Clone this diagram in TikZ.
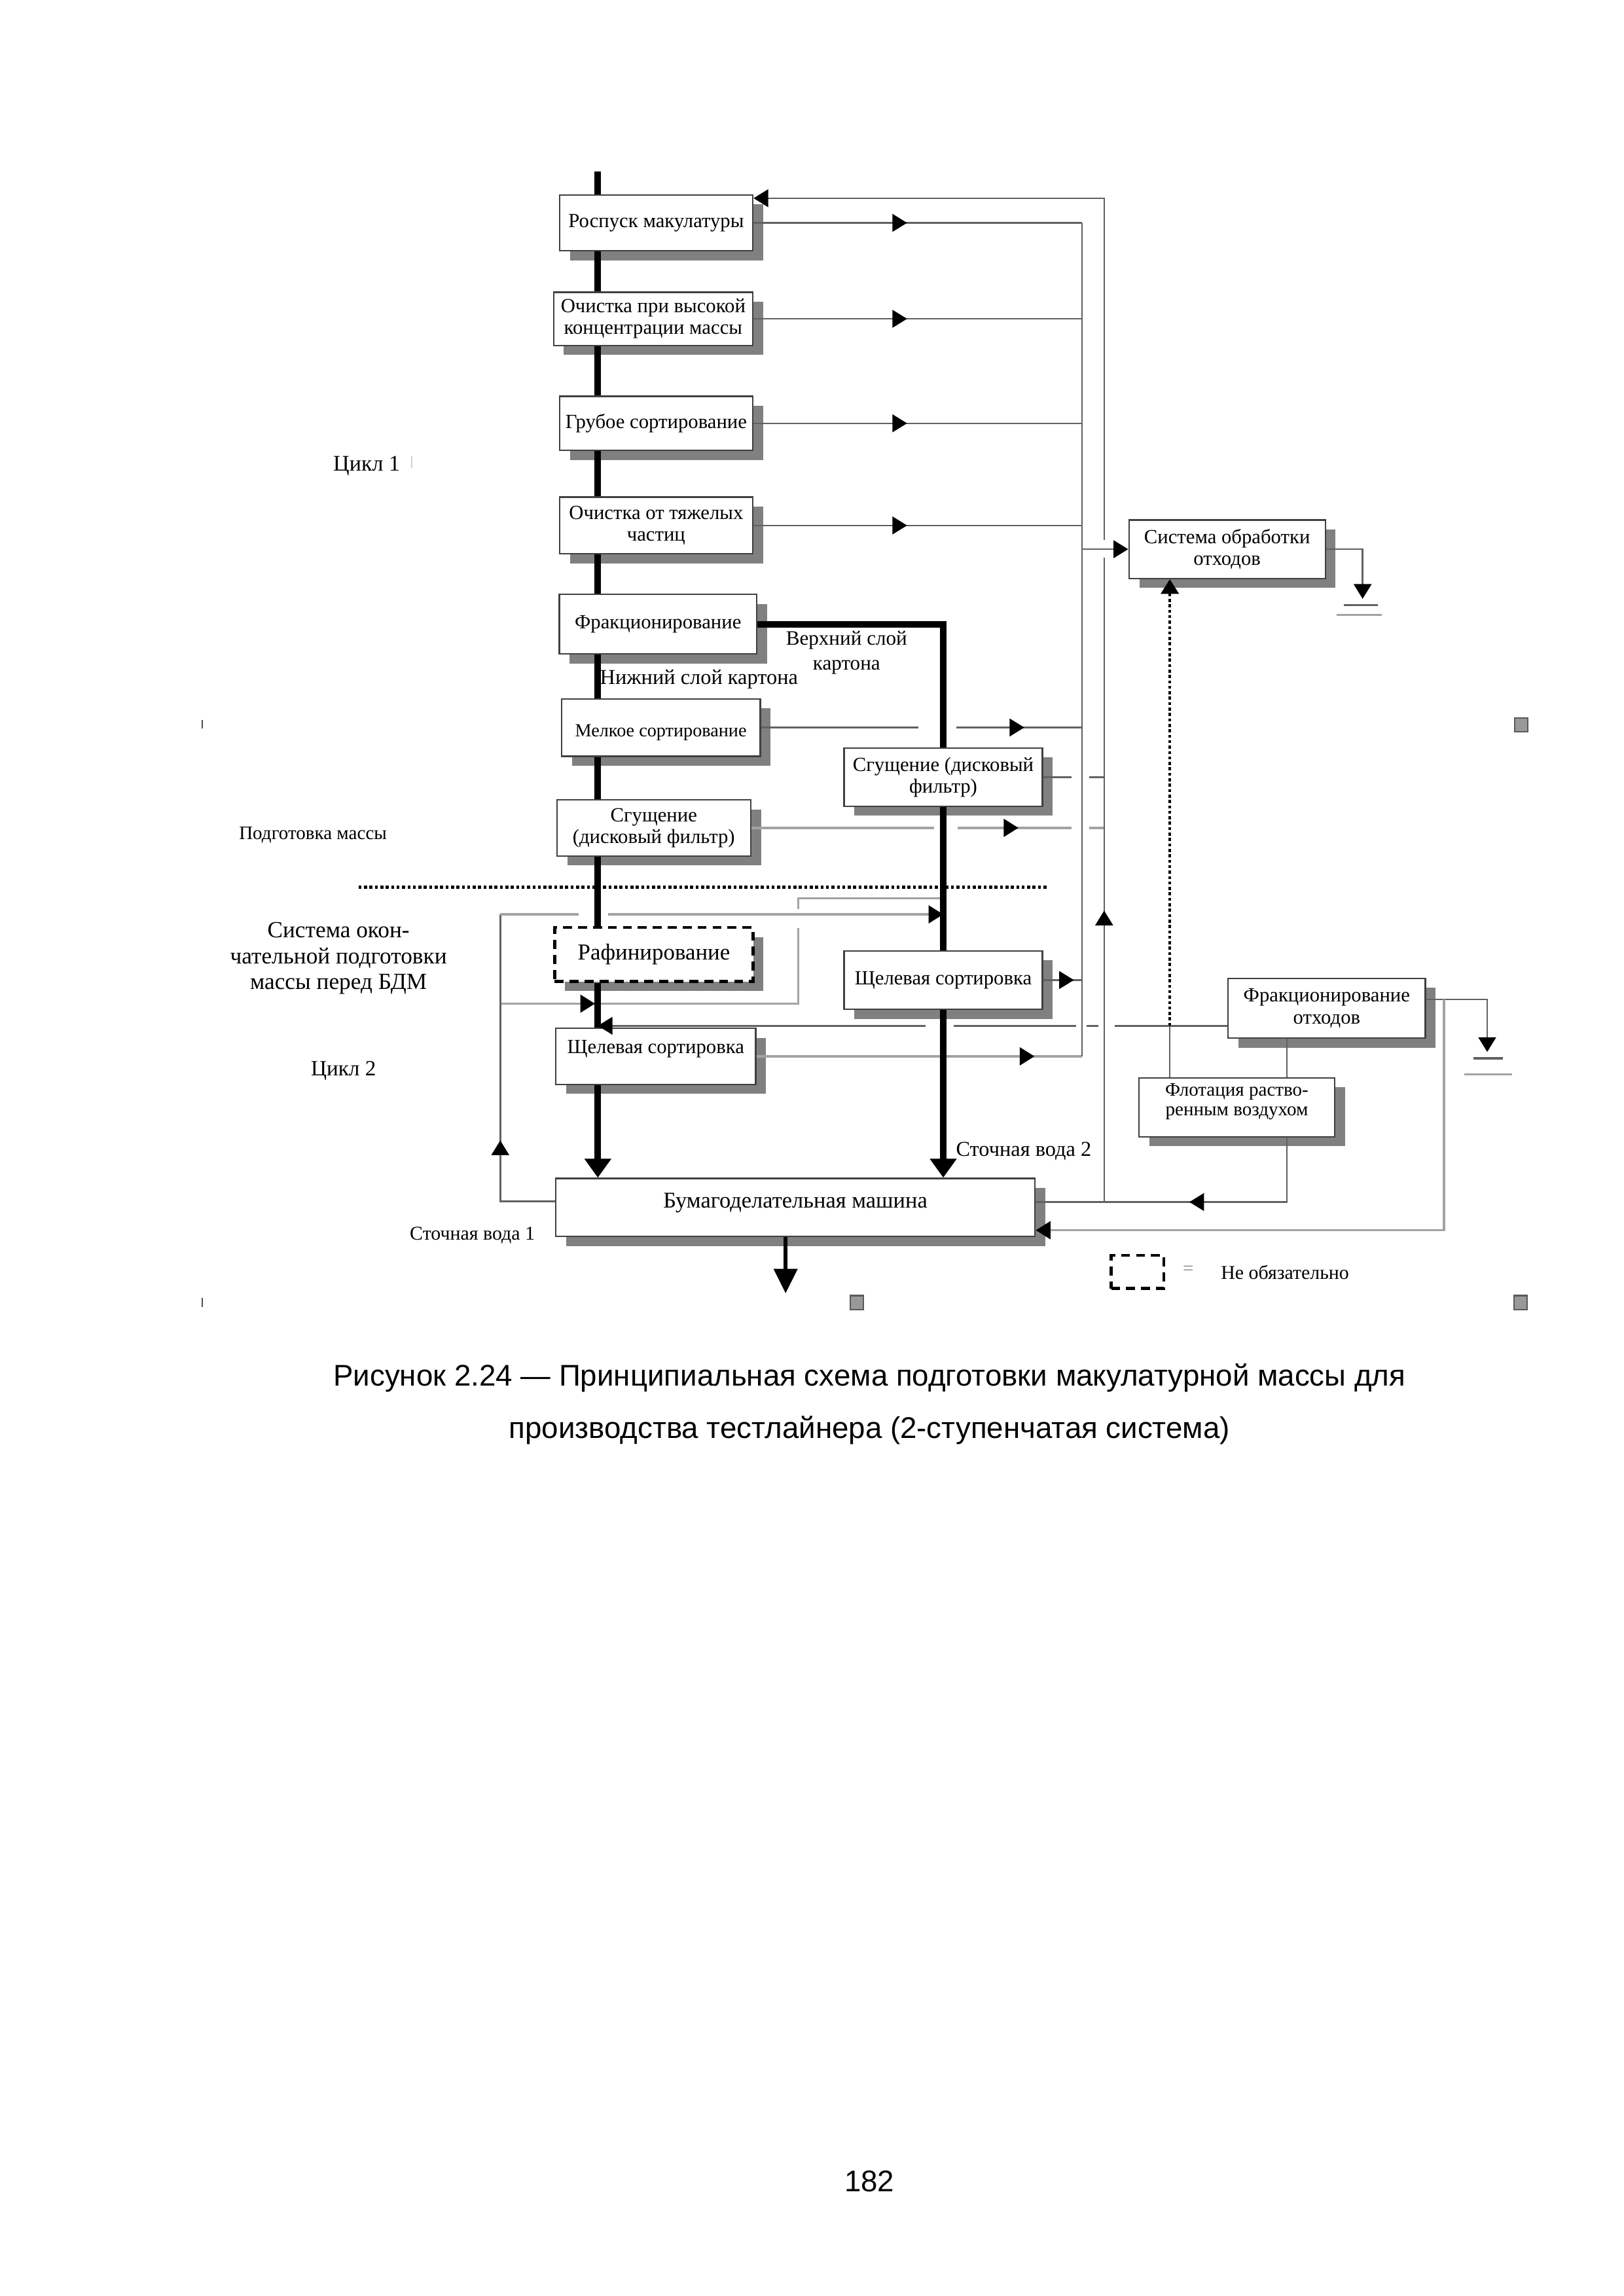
\documentclass[tikz,border=0pt]{standalone}
\usepackage{fontspec}
\setmainfont{Liberation Serif}
\newfontfamily\capfont{Liberation Sans}
\usetikzlibrary{arrows.meta, shadows, decorations.markings, calc}

\definecolor{boxline}{gray}{0.25}
\definecolor{flowgray}{gray}{0.38}
\definecolor{palegray}{gray}{0.64}
\definecolor{shadowgray}{gray}{0.5}
\definecolor{handlegray}{gray}{0.6}

\newcommand{\pxu}{0.019091cm}

\begin{document}
\begin{tikzpicture}[x=\pxu, y=-\pxu,
    tinytip/.tip = {Triangle[length=5.4pt, width=6.5pt, color=black]},
    bigtip/.tip = {Triangle[length=7pt, width=9.5pt, color=black]},
    unit box/.style 2 args = {minimum width=#1*\pxu, minimum height=#2*\pxu},
    stage/.style = {draw=boxline, line width=0.55pt, fill=white, align=center, inner sep=1pt,
      font=\fontsize{7.4}{8}\selectfont,
      drop shadow={shadow xshift=0.134cm, shadow yshift=-0.124cm, fill=shadowgray, opacity=1}},
    optional/.style = {draw=black, line width=1.1pt, dash pattern=on 3.3pt off 2.2pt},
    flow/.style = {draw=flowgray, line width=0.6pt},
    pale/.style = {draw=palegray, line width=0.9pt},
    stock/.style = {draw=black, line width=2.4pt},
    sludge/.style = {draw=black, line width=1.1pt, dash pattern=on 1.1pt off 0.9pt},
    gap/.style = {draw=white, line width=2.2pt},
    tipat/.style = {postaction={decorate, decoration={markings, mark=at position #1*\pxu with {\arrow{tinytip}}}}},
    note/.style = {inner sep=0pt, align=center, font=\fontsize{7.5}{9.2}\selectfont}]
  \useasboundingbox (0,0) rectangle (1100,1555.6);

  \node[stage, unit box={131}{38}] (pulper) at (444.5,151) {Роспуск макулатуры};
  \node[stage, unit box={135}{36}] (hdclean) at (442.5,216) {Очистка при высокой\\концентрации массы};
  \node[stage, unit box={131}{36.5}] (coarse) at (444.5,286.8) {Грубое сортирование};
  \node[stage, unit box={131}{38.5}] (heavy) at (444.5,356) {Очистка от тяжелых\\частиц};
  \node[stage, unit box={133.8}{40.4}] (fract) at (445.8,422.9) {Фракционирование};
  \node[stage, unit box={134.6}{38.9}, font=\fontsize{6.8}{8}\selectfont, text height=8pt] (fine) at (447.7,492.9) {Мелкое сортирование};
  \node[stage, unit box={131.2}{38}] (thickA) at (442.9,560.9) {Сгущение\\(дисковый фильтр)};
  \node[stage, unit box={134.4}{39.5}] (thickB) at (639,526.5) {Сгущение (дисковый\\фильтр)};
  \node[stage, optional, unit box={134.4}{36.6}, font=\fontsize{8.4}{9}\selectfont] (refine) at (443,646.7) {Рафинирование};
  \node[stage, unit box={134.4}{39.6}] (slotB) at (639,664) {Щелевая сортировка};
  \node[stage, unit box={135.6}{38}, text depth=7pt] (slotA) at (444.2,715.7) {Щелевая сортировка};
  \node[stage, unit box={324.8}{39.2}, font=\fontsize{8.3}{9}\selectfont, text depth=5pt] (machine) at (538.8,818) {Бумагоделательная машина};
  \node[stage, unit box={133}{39.6}] (waste) at (831.3,372.1) {Система обработки\\отходов};
  \node[stage, unit box={133.6}{40.6}] (fracw) at (898.8,683.1) {Фракционирование\\отходов};
  \node[stage, unit box={132.8}{39.9}, font=\fontsize{7}{7.4}\selectfont, text depth=5.7pt] (flot) at (837.9,750.2) {Флотация раство-\\ренным воздухом};

  \node[note] (upper) at (573.5,442.3) {Верхний слой\\картона};
  \node[note, font=\fontsize{7.8}{9}\selectfont] (lower) at (473.5,460.4) {Нижний слой картона};
  \node[note, font=\fontsize{8.2}{9}\selectfont] (cycle1) at (248.4,315.8) {Цикл 1};
  \node[note, font=\fontsize{7}{8}\selectfont] (prep) at (212,565.7) {Подготовка массы};
  \node[note, font=\fontsize{8.5}{9.5}\selectfont] (final) at (229.3,649.3) {Система окон-\\чательной подготовки\\массы перед БДМ};
  \node[note, font=\fontsize{8}{9}\selectfont] (cycle2) at (232.7,725.7) {Цикл 2};
  \node[note, font=\fontsize{7.2}{8}\selectfont] (ww1lab) at (320,837) {Сточная вода 1};
  \node[note, font=\fontsize{7.8}{8}\selectfont] (ww2lab) at (693.5,780) {Сточная вода 2};
  \node[optional, unit box={35.7}{22.4}, inner sep=0pt] (legend) at (770.6,861.8) {};
  \node[note, text=black!45, font=\fontsize{7}{8}\selectfont] (eq) at (805,860.6) {=};
  \node[note, font=\fontsize{7.2}{8}\selectfont] (optlab) at (870.5,862) {Не обязательно};

  \node[font=\capfont\fontsize{11}{19.3}\selectfont, align=center, inner sep=0pt] (caption) at (589,951.4)
    {Рисунок 2.24 — Принципиальная схема подготовки макулатурной массы для\\производства тестлайнера (2-ступенчатая система)};
  \node[font=\capfont\fontsize{11}{13}\selectfont, inner sep=0pt] (pagenum) at (589,1478) {182};

  \coordinate (col-top) at (733,151);
  \coordinate (col-bot) at (733,715.7);
  \coordinate (ret-top) at (748,134.3);
  \coordinate (ret-bot) at (748,814.4);
  \coordinate (main-top) at (405,116.4);
  \coordinate (sl-j) at (792.5,695);
  \coordinate (gnd1) at (923.1,405.7);
  \coordinate (fw-out) at (1007.5,677.2);
  \coordinate (gnd2) at (1007.5,712.7);
  \coordinate (fw-ret) at (978.1,833.5);
  \coordinate (flot-out) at (871.7,814.4);
  \coordinate (ww1) at (338.9,813.9);
  \coordinate (ww1-top) at (338.9,619.5);
  \coordinate (ww-b) at (338.9,680);
  \coordinate (byp-low) at (540.8,680);
  \coordinate (byp-top) at (540.8,608.6);
  \coordinate (paper) at (532.2,876.2);

  \draw[flow, tipat=104] (pulper.east) -- (col-top);
  \draw[flow, tipat=104] (hdclean.east) -- (hdclean.east -| col-top);
  \draw[flow, tipat=104] (coarse.east) -- (coarse.east -| col-top);
  \draw[flow, tipat=104] (heavy.east) -- (heavy.east -| col-top);
  \draw[flow, tipat=178.4] (fine.east) -- (fine.east -| col-top);
  \draw[flow] (thickB.east) -- (thickB.east -| ret-top);
  \draw[pale, tipat=180.9] (thickA.east) -- (thickA.east -| ret-top);
  \draw[flow, tipat=20.8] (slotB.east) -- (slotB.east -| col-top);
  \draw[pale, tipat=188.3] (slotA.east) -- (col-bot);
  \draw[flow, -{tinytip}] (fracw.west |- sl-j) -- (sl-j -| main-top);
  \draw[pale, tipat=64.2] (ww-b) -- (byp-low) -- (byp-top) -- (byp-top -| slotB.north);
  \draw[flow, tipat=78.2] (machine.west |- ww1) -- (ww1) -- (ww1-top);
  \draw[sludge] (242.9,601.1) -- (710.2,601.1);
  \foreach \xa/\xb/\yy in {622/648/492.9, 725.7/738/526.5, 632.7/648.6/560.9, 725.7/738/560.9,
                           627/646/695, 729/736/695, 744/755/695}
    \draw[gap] (\xa,\yy) -- (\xb,\yy);
  \draw[gap] (540.8,616) -- (540.8,628.6);
  \draw[pale, -{tinytip}] (ww1-top) -- (ww1-top -| slotB.north);
  \draw[gap] (392,619.5) -- (412,619.5);
  \draw[flow] (col-top) -- (col-bot);
  \draw[flow, tipat=197.4, -{tinytip}] (ret-bot) -- (ret-top) -- (ret-top -| pulper.east);
  \draw[gap] (748,366) -- (748,378);
  \draw[flow, -{tinytip}] (waste.west -| col-top) -- (waste.west);

  \draw[sludge, -{tinytip}] (sl-j) -- (waste.south -| sl-j);
  \draw[flow] (sl-j) -- (flot.north -| sl-j);
  \draw[flow] (fracw.south -| flot-out) -- (flot.north -| flot-out);
  \draw[flow, tipat=109.7] (flot.south -| flot-out) -- (flot-out) -- (flot-out -| machine.east);
  \draw[flow, -{tinytip}] (fracw.east |- fw-out) -- (fw-out) -- (gnd2);
  \draw[pale, -{tinytip}] (fw-out -| fw-ret) -- (fw-ret) -- (fw-ret -| machine.east);
  \draw[flow, -{tinytip}] (waste.east) -- (waste.east -| gnd1) -- (gnd1);
  \draw[flowgray, line width=0.8pt] ($(gnd1)+(-12.9,4.4)$) -- ($(gnd1)+(10.2,4.4)$);
  \draw[palegray, line width=0.9pt] ($(gnd1)+(-17.4,10.9)$) -- ($(gnd1)+(13.2,10.9)$);
  \draw[flowgray, line width=0.8pt] ($(gnd2)+(-9.5,4.3)$) -- ($(gnd2)+(10.8,4.3)$);
  \draw[palegray, line width=0.9pt] ($(gnd2)+(-15.4,15.2)$) -- ($(gnd2)+(17,15.2)$);

  \draw[stock] (main-top) -- (pulper.north -| main-top);
  \foreach \a/\b in {pulper/hdclean, hdclean/coarse, coarse/heavy, heavy/fract, fract/fine,
                     fine/thickA, thickA/refine, refine/slotA}
    \draw[stock] (\a.south -| main-top) -- (\b.north -| main-top);
  \draw[stock, -{bigtip}] (slotA.south -| main-top) -- (machine.north -| main-top);
  \draw[stock] (fract.east) -- (fract.east -| thickB.north) -- (thickB.north);
  \draw[stock] (thickB.south) -- (slotB.north);
  \draw[stock, -{bigtip}] (slotB.south) -- (slotB.south |- machine.north);
  \draw[black, line width=1.3pt, -{Triangle[length=9pt, width=8.6pt]}] (machine.south -| paper) -- (paper);

  \foreach \hx/\hy in {1030.5/491, 1030/882.5, 580.5/882.5}
    \draw[fill=handlegray, draw=black!65, line width=0.5pt] (\hx,\hy) ++(-4.5,-4.7) rectangle ++(9,9.4);
  \draw[black!70, line width=0.5pt] (137,488) -- (137,493.5) (137,879.5) -- (137,885.5);
  \draw[black!18, line width=0.5pt] (279,309) -- (279,317);
\end{tikzpicture}
\end{document}
